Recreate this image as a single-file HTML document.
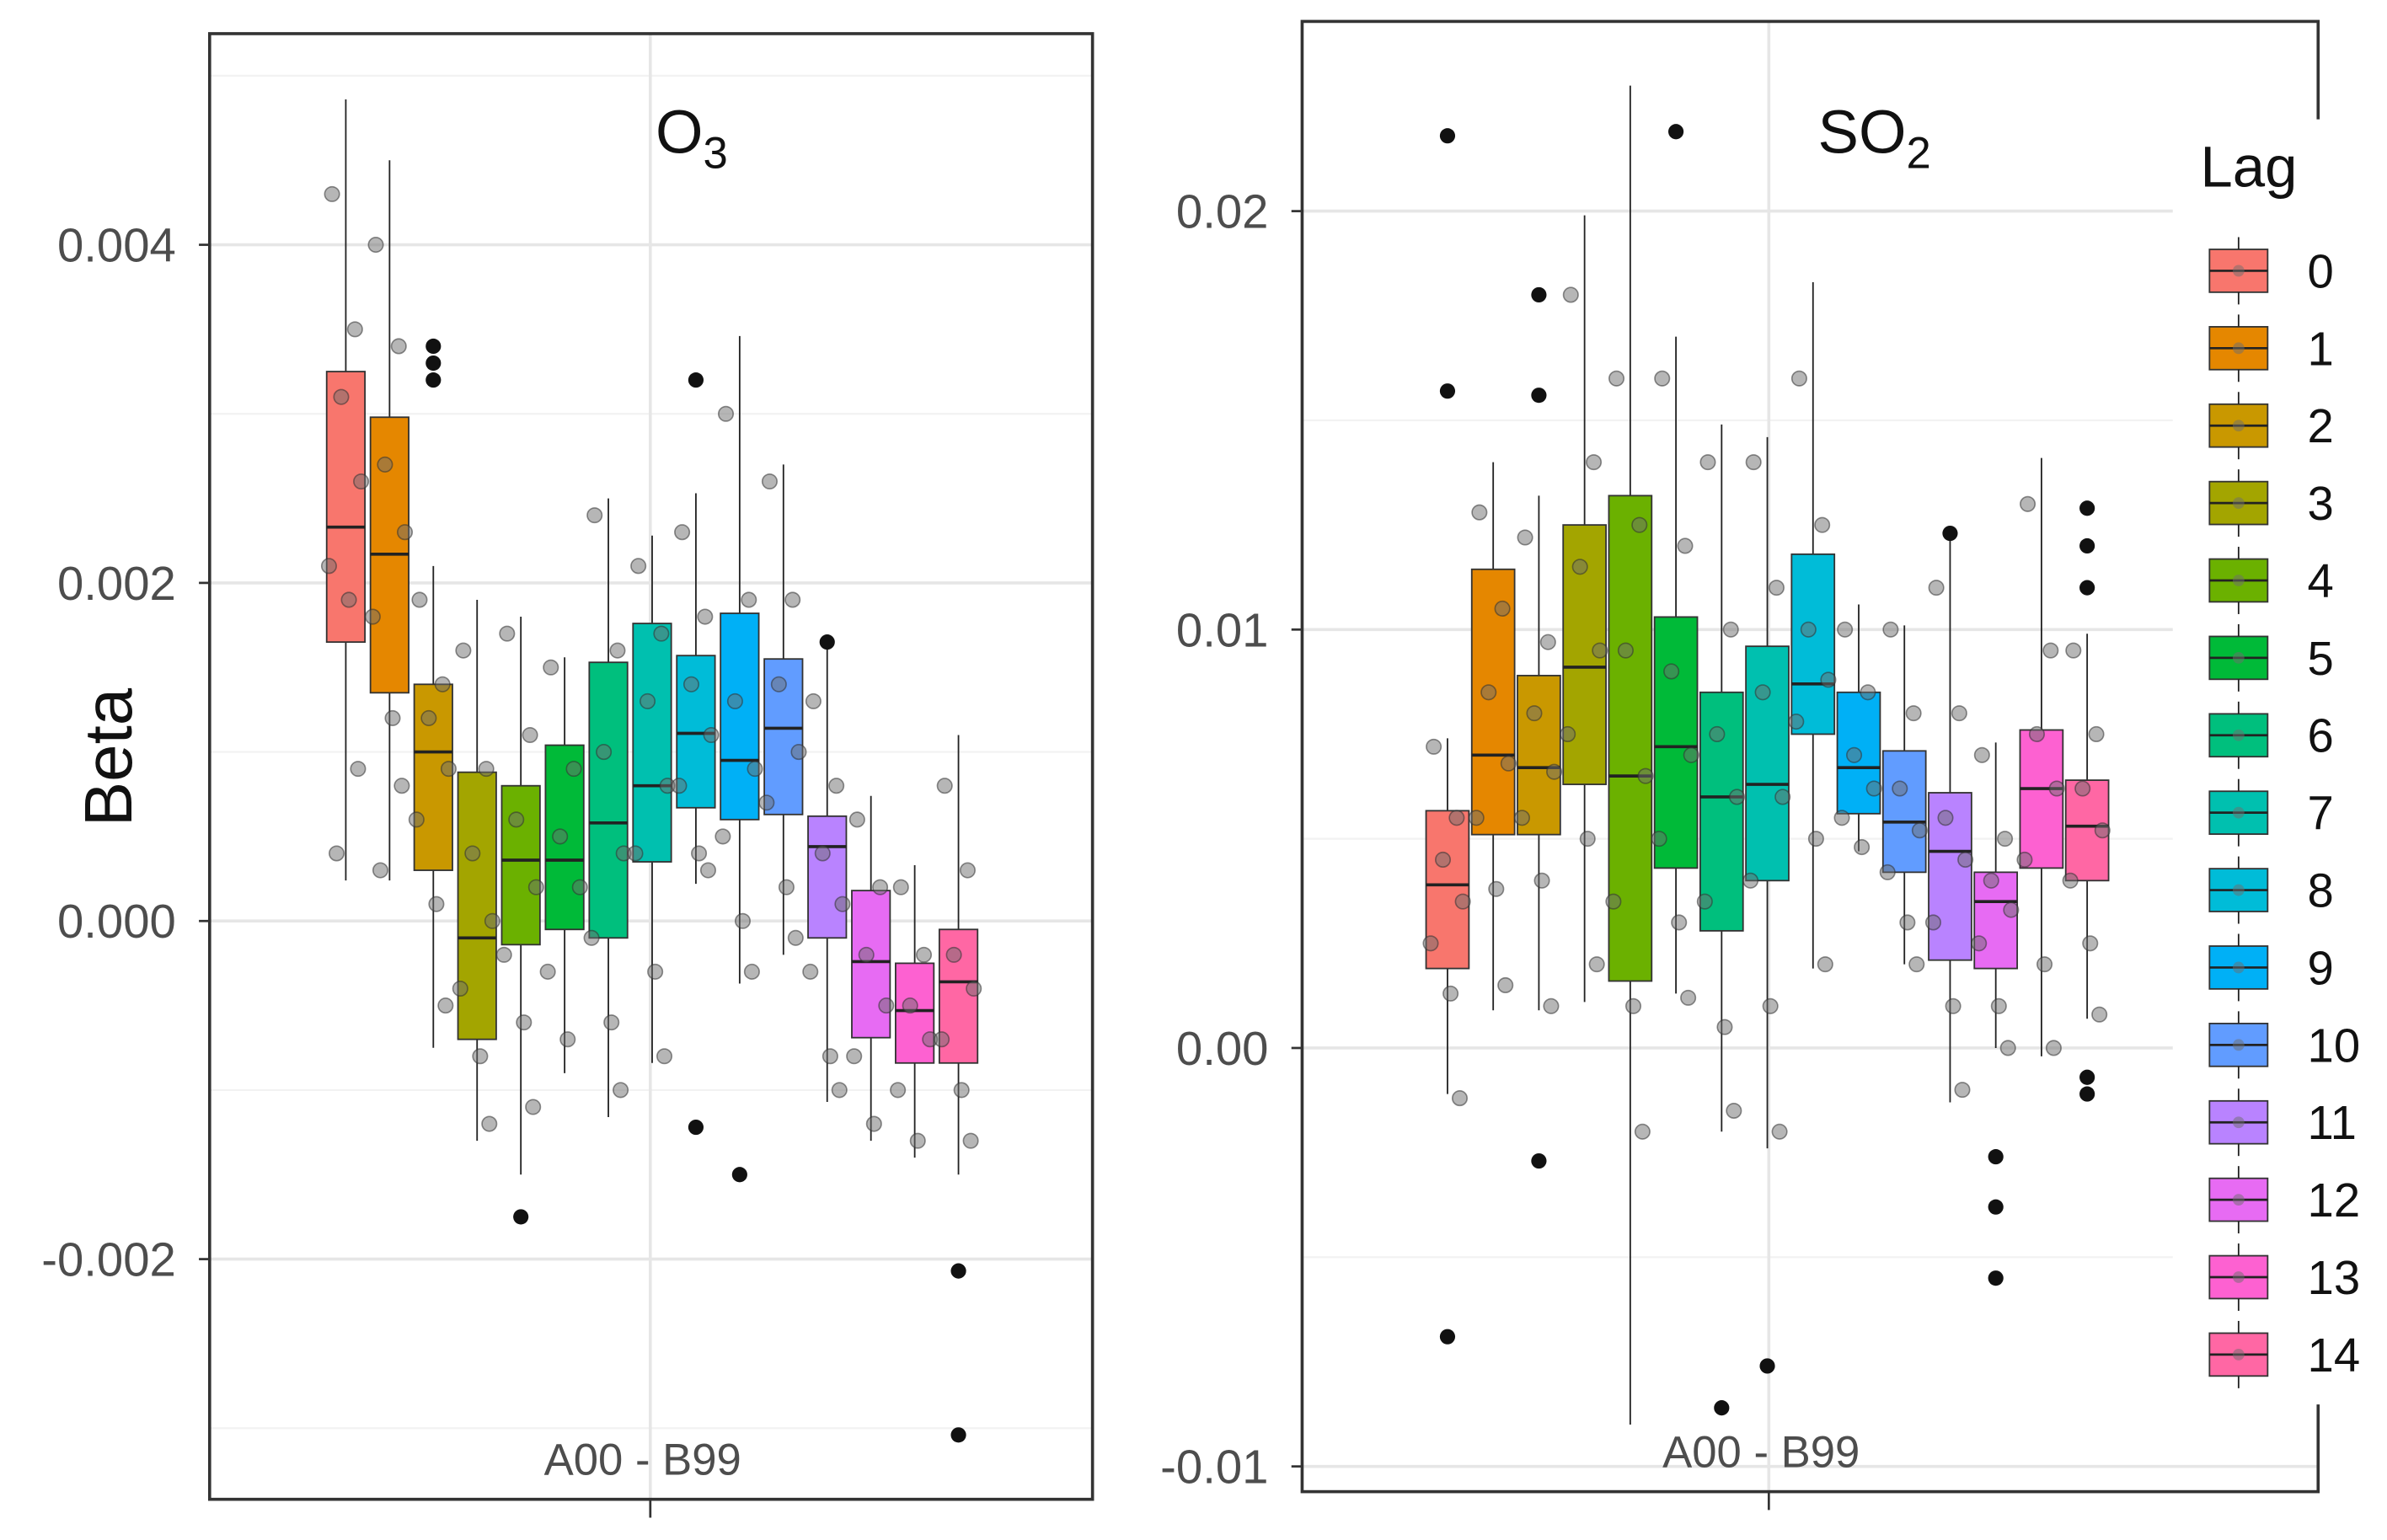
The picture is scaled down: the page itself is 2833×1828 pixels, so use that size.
<!DOCTYPE html>
<html><head><meta charset="utf-8"><style>
html,body{margin:0;padding:0;background:#fff;}
svg{display:block;font-family:"Liberation Sans",sans-serif;}
</style></head><body>
<svg id="chart" width="2833" height="1828" viewBox="0 0 1560 1006.6" preserveAspectRatio="none" xmlns="http://www.w3.org/2000/svg"></svg>
<script>
const lags = ['0','1','2','3','4','5','6','7','8','9','10','11','12','13','14'];
const colors = ['#F8766D','#E58700','#C99800','#A3A500','#6BB100','#00BA38','#00BF7D','#00C0AF','#00BCD8','#00B0F6','#619CFF','#B983FF','#E76BF3','#FD61D1','#FF67A4'];
// O3: [low, q1, median, q3, high]
const o3Stats = [
 [0.00024,0.00165,0.00233,0.00325,0.00486],[0.00024,0.00135,0.00217,0.00298,0.0045],
 [-0.00075,0.0003,0.001,0.0014,0.0021],[-0.0013,-0.0007,-0.0001,0.00088,0.0019],
 [-0.0015,-0.00014,0.00036,0.0008,0.0018],[-0.0009,-0.00005,0.00036,0.00104,0.00156],
 [-0.00116,-0.0001,0.00058,0.00153,0.0025],[-0.00084,0.00035,0.0008,0.00176,0.00228],
 [0.00022,0.00067,0.00111,0.00157,0.00253],[-0.00037,0.0006,0.00095,0.00182,0.00346],
 [-0.0002,0.00063,0.00114,0.00155,0.0027],[-0.00107,-0.0001,0.00044,0.00062,0.00165],
 [-0.0013,-0.00069,-0.00024,0.00018,0.00074],[-0.0014,-0.00084,-0.00053,-0.00025,0.00033],
 [-0.0015,-0.00084,-0.00036,-0.00005,0.0011]];
const o3Outliers = [[],[],[0.0034,0.0033,0.0032],[],[-0.00175],[],[],[],[0.0032,-0.00122],[-0.0015],[],[0.00165],[],[],[-0.00207,-0.00304]];
const o3Points = [
 [0.0043,0.0035,0.0031,0.0026,0.0021,0.0019,0.0009,0.0004],[0.0040,0.0034,0.0027,0.0023,0.0018,0.0012,0.0008,0.0003],
 [0.0019,0.0014,0.0012,0.0009,0.0006,0.0001,-0.0005],[0.0016,0.0009,0.0004,0.0000,-0.0004,-0.0008,-0.0012],
 [0.0017,0.0011,0.0006,0.0002,-0.0002,-0.0006,-0.0011],[0.0015,0.0009,0.0005,0.0002,-0.0003,-0.0007],
 [0.0024,0.0016,0.0010,0.0004,-0.0001,-0.0006,-0.0010],[0.0021,0.0017,0.0013,0.0008,0.0004,-0.0003,-0.0008],
 [0.0023,0.0018,0.0014,0.0011,0.0008,0.0004,0.0003],[0.0030,0.0019,0.0013,0.0009,0.0005,0.0000,-0.0003],
 [0.0026,0.0019,0.0014,0.0010,0.0007,0.0002,-0.0001],[0.0013,0.0008,0.0004,0.0001,-0.0003,-0.0008,-0.0010],
 [0.0006,0.0002,-0.0002,-0.0005,-0.0008,-0.0012],[0.0002,-0.0002,-0.0005,-0.0007,-0.0010,-0.0013],
 [0.0008,0.0003,-0.0002,-0.0004,-0.0007,-0.0010,-0.0013]];
// SO2
const so2Stats = [
 [-0.0011,0.0019,0.0039,0.00567,0.0074],[0.0009,0.0051,0.007,0.01144,0.014],
 [0.0009,0.0051,0.0067,0.0089,0.0132],[0.0011,0.0063,0.0091,0.0125,0.0199],
 [-0.009,0.0016,0.0065,0.0132,0.023],[0.0013,0.0043,0.0072,0.0103,0.017],
 [-0.002,0.0028,0.006,0.0085,0.0149],[-0.0024,0.004,0.0063,0.0096,0.0146],
 [0.0019,0.0075,0.0087,0.0118,0.0183],[0.0047,0.0056,0.0067,0.0085,0.0106],
 [0.002,0.0042,0.0054,0.0071,0.0101],[-0.0013,0.0021,0.0047,0.0061,0.0123],
 [0,0.0019,0.0035,0.0042,0.0073],[-0.0002,0.0043,0.0062,0.0076,0.0141],
 [0.0007,0.004,0.0053,0.0064,0.0099]];
const so2Outliers = [[0.0218,0.0157,-0.0069],[],[0.018,0.0156,-0.0027],[],[],[0.0219],[-0.0086],[-0.0076],[],[],[],[0.0123],[-0.0026,-0.0038,-0.0055],[],[0.0129,0.012,0.011,-0.0007,-0.0011]];
const so2Points = [
 [0.0072,0.0055,0.0045,0.0035,0.0025,0.0013,-0.0012],[0.0128,0.0105,0.0085,0.0068,0.0055,0.0038,0.0015],
 [0.0122,0.0097,0.0080,0.0066,0.0055,0.0040,0.0010],[0.0180,0.0140,0.0115,0.0095,0.0075,0.0050,0.0020],
 [0.0160,0.0125,0.0095,0.0065,0.0035,0.0010,-0.0020],[0.0160,0.0120,0.0090,0.0070,0.0050,0.0030,0.0012],
 [0.0140,0.0100,0.0075,0.0060,0.0035,0.0005,-0.0015],[0.0140,0.0110,0.0085,0.0060,0.0040,0.0010,-0.0020],
 [0.0160,0.0125,0.0100,0.0088,0.0078,0.0050,0.0020],[0.0100,0.0085,0.0070,0.0062,0.0055,0.0048],
 [0.0100,0.0080,0.0062,0.0052,0.0042,0.0030,0.0020],[0.0110,0.0080,0.0055,0.0045,0.0030,0.0010,-0.0010],
 [0.0070,0.0050,0.0040,0.0033,0.0025,0.0010,0.0000],[0.0130,0.0095,0.0075,0.0062,0.0045,0.0020,0.0000],
 [0.0095,0.0075,0.0062,0.0052,0.0040,0.0025,0.0008]];
const o3Ticks = [0.004,0.002,0.000,-0.002];
const o3TickLabels = ['0.004','0.002','0.000','-0.002'];
const so2Ticks = [0.02,0.01,0.00,-0.01];
const so2TickLabels = ['0.02','0.01','0.00','-0.01'];

const NS='http://www.w3.org/2000/svg';
const svg=document.getElementById('chart');
function mk(tag,attrs,parent){const e=document.createElementNS(NS,tag);for(const k in attrs)e.setAttribute(k,attrs[k]);(parent||svg).appendChild(e);return e;}
const jit=[-9,6,-3,10,-11,2,8,-6];

function panel(cfg){
  const g=mk('g',{});
  
  
  const y=v=>cfg.y0+(v-cfg.v0)*(cfg.y1-cfg.y0)/(cfg.v1-cfg.v0);
  const x=i=>cfg.xs+i*cfg.dx;
  cfg.minor.forEach(v=>{const l=mk('line',{x1:cfg.L,x2:cfg.R,y1:y(v),y2:y(v),stroke:'#f2f2f2','stroke-width':1.2},g);
    });
  cfg.ticks.forEach(v=>{const l=mk('line',{x1:cfg.L,x2:cfg.R,y1:y(v),y2:y(v),stroke:'#e6e6e6','stroke-width':2},g);
    });
  const vg=mk('line',{x1:cfg.cx,x2:cfg.cx,y1:cfg.T,y2:cfg.B,stroke:'#e6e6e6','stroke-width':2},g);
  
  cfg.stats.forEach((s,i)=>{
    const bg=mk('g',{},g);
    
    
    const cxp=x(i),w=cfg.bw;
    mk('line',{x1:cxp,x2:cxp,y1:y(s[0]),y2:y(s[4]),stroke:'#222','stroke-width':1},bg);
    mk('rect',{x:cxp-w/2,y:y(s[3]),width:w,height:y(s[1])-y(s[3]),fill:colors[i],stroke:'#333','stroke-width':1},bg);
    mk('line',{x1:cxp-w/2,x2:cxp+w/2,y1:y(s[2]),y2:y(s[2]),stroke:'#222','stroke-width':2},bg);
    cfg.outliers[i].forEach(v=>{const c=mk('circle',{cx:cxp,cy:y(v),r:5,fill:'#111'},bg);
      });
    cfg.points[i].forEach((v,j)=>{const c=mk('circle',{cx:cxp+jit[j%8],cy:y(v),r:4.8,fill:'rgba(110,110,110,0.5)',stroke:'rgba(50,50,50,0.55)','stroke-width':0.9},bg);
      });
  });
  const br=mk('rect',{x:cfg.L,y:cfg.T,width:cfg.R-cfg.L,height:cfg.B-cfg.T,fill:'none',stroke:'#333','stroke-width':2},g);
  
  cfg.ticks.forEach((v,k)=>{
    mk('line',{x1:cfg.L-7,x2:cfg.L,y1:y(v),y2:y(v),stroke:'#333','stroke-width':1.5},g);
    const t=mk('text',{x:cfg.L-22,y:y(v)+11,'text-anchor':'end','font-size':31,fill:'#4d4d4d'},g);
    t.textContent=cfg.labels[k];
    
  });
  mk('line',{x1:cfg.cx,x2:cfg.cx,y1:cfg.B,y2:cfg.B+12,stroke:'#333','stroke-width':1.5},g);
  const xl=mk('text',{x:cfg.cx-5,y:cfg.B-16,'text-anchor':'middle','font-size':29,fill:'#4d4d4d'},g);
  xl.textContent='A00 - B99';
  const tt=mk('text',{x:cfg.tx,y:100,'text-anchor':'middle','font-size':40,fill:'#111'},g);
  tt.innerHTML=cfg.title+'<tspan font-size="29" dy="10">'+cfg.sub+'</tspan>';
  
}
panel({name:'o3',L:137,R:714,T:22,B:980,cx:425,y0:602,y1:160,v0:0,v1:0.004,xs:226,dx:28.6,bw:25,
  minor:[0.005,0.003,0.001,-0.001,-0.003],ticks:o3Ticks,labels:o3TickLabels,stats:o3Stats,outliers:o3Outliers,points:o3Points,title:'O',sub:'3',tx:452});
panel({name:'so2',L:851,R:1515,T:14,B:975,cx:1156,y0:685,y1:138,v0:0,v1:0.02,xs:946,dx:29.86,bw:28,
  minor:[0.015,0.005,-0.005],ticks:so2Ticks,labels:so2TickLabels,stats:so2Stats,outliers:so2Outliers,points:so2Points,title:'SO',sub:'2',tx:1225});
const yt=mk('text',{x:86,y:495,'text-anchor':'middle','font-size':44,fill:'#111',transform:'rotate(-90 86 495)'});
yt.textContent='Beta';
const lg=mk('g',{});

mk('rect',{x:1420,y:78,width:140,height:840,fill:'#fff'},lg);
const lt=mk('text',{x:1438,y:122,'font-size':38,fill:'#111'},lg);
lt.textContent='Lag';
lags.forEach((l,i)=>{
  const e=mk('g',{},lg);
  
  
  const yy=177+i*50.6;
  mk('rect',{x:1444,y:yy-14,width:38,height:28,fill:colors[i],stroke:'#333','stroke-width':1},e);
  mk('line',{x1:1444,x2:1482,y1:yy,y2:yy,stroke:'#222','stroke-width':1.5},e);
  mk('line',{x1:1463,x2:1463,y1:yy-22,y2:yy-14,stroke:'#222','stroke-width':1},e);
  mk('line',{x1:1463,x2:1463,y1:yy+14,y2:yy+22,stroke:'#222','stroke-width':1},e);
  mk('circle',{cx:1463,cy:yy,r:3.8,fill:'rgba(110,110,110,0.5)'},e);
  const t=mk('text',{x:1508,y:yy+11,'font-size':31,fill:'#111'},e);
  t.textContent=l;
});
</script>
</body></html>
